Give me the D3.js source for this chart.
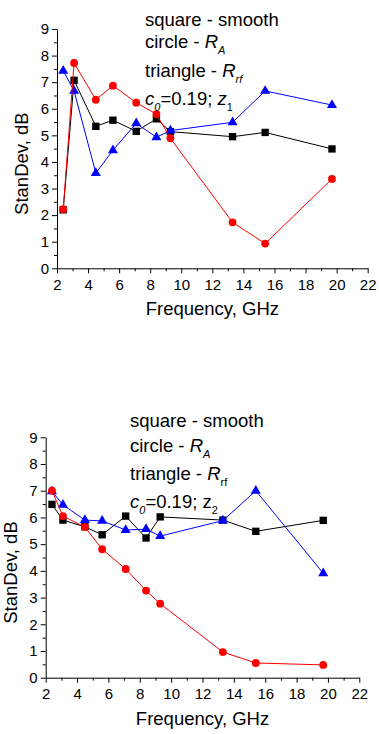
<!DOCTYPE html>
<html>
<head>
<meta charset="utf-8">
<script src="https://cdn.jsdelivr.net/npm/d3@7"></script>
<style>
  body { margin: 0; background: #fff; }
  svg { display: block; }
  text { font-family: "Liberation Sans", Arial, sans-serif; fill: #000; }
</style>
</head>
<body>
<div id="chart"></div>
<script>
// frequencies (GHz) shared by both panels
const freq = [2.4, 3.1, 4.5, 5.6, 7.1, 8.4, 9.3, 13.3, 15.4, 19.7];

// panel 1 (z1)
const smoothZ1 = [2.2, 7.07, 5.34, 5.57, 5.15, 5.62, 5.14, 4.95, 5.11, 4.49];
const raZ1     = [2.22, 7.72, 6.34, 6.87, 6.23, 5.80, 4.89, 1.73, 0.93, 3.36];
const rrfZ1    = [7.43, 6.67, 3.58, 4.44, 5.45, 4.93, 5.18, 5.49, 6.67, 6.14];

// panel 2 (z2)
const smoothZ2 = [6.49, 5.9, 5.65, 5.35, 6.05, 5.23, 6.02, 5.9, 5.48, 5.89];
const raZ2     = [7.0, 6.05, 5.64, 4.81, 4.07, 3.26, 2.77, 0.96, 0.55, 0.48];
const rrfZ2    = [6.98, 6.47, 5.9, 5.87, 5.53, 5.56, 5.3, 5.88, 7.0, 3.91];

const xTicks = [2, 4, 6, 8, 10, 12, 14, 16, 18, 20, 22];
const yTicks = [0, 1, 2, 3, 4, 5, 6, 7, 8, 9];

const width = 379;
const height = 734;

const svg = d3.select("#chart")
    .append("svg")
    .attr("width", width)
    .attr("height", height);

// draw one panel
function drawPanel(opts) {
    const x = d3.scaleLinear().domain([2, 22]).range([opts.left, opts.right]);
    const y = d3.scaleLinear().domain([0, 9]).range([opts.bottom, opts.top]);

    const g = svg.append("g");

    // x axis, major + minor ticks outward
    g.append("g")
        .attr("transform", `translate(0,${opts.bottom})`)
        .call(d3.axisBottom(x).tickValues(d3.range(3, 22, 2)).tickSize(3).tickFormat(""))
        .call(a => a.select(".domain").remove());
    g.append("g")
        .attr("transform", `translate(0,${opts.bottom})`)
        .call(d3.axisBottom(x).tickValues(xTicks).tickSize(5).tickSizeOuter(0).tickPadding(6))
        .call(a => a.selectAll("text").attr("font-size", 15).attr("font-family", "Liberation Sans, Arial, sans-serif"));

    // y axis
    g.append("g")
        .attr("transform", `translate(${opts.left},0)`)
        .call(d3.axisLeft(y).tickValues(d3.range(0.5, 9, 1)).tickSize(3).tickFormat(""))
        .call(a => a.select(".domain").remove());
    g.append("g")
        .attr("transform", `translate(${opts.left},0)`)
        .call(d3.axisLeft(y).tickValues(yTicks).tickSize(5).tickSizeOuter(0).tickPadding(3))
        .call(a => a.selectAll("text").attr("font-size", 15).attr("font-family", "Liberation Sans, Arial, sans-serif"));

    g.selectAll(".domain, .tick line").attr("stroke", "#000").attr("stroke-width", 1);

    // axis titles
    g.append("text")
        .attr("x", (opts.left + opts.right) / 2)
        .attr("y", opts.bottom + 47)
        .attr("text-anchor", "middle")
        .attr("font-size", 18.5)
        .text("Frequency, GHz");

    g.append("text")
        .attr("transform", `translate(${opts.left - 29},${(opts.top + opts.bottom) / 2 + 15}) rotate(-90)`)
        .attr("text-anchor", "middle")
        .attr("font-size", 18.5)
        .text("StanDev, dB");

    // series: black squares, blue triangles, red circles
    const series = [
        { vals: opts.smooth, color: "#000", shape: d3.symbolSquare, size: 54 },
        { vals: opts.rrf, color: "#0000ff", shape: d3.symbolTriangle, size: 44 },
        { vals: opts.ra, color: "#ff0000", shape: d3.symbolCircle, size: 48 }
    ];

    const line = d3.line().x(d => x(d[0])).y(d => y(d[1]));

    series.forEach(s => {
        const pts = freq.map((f, i) => [f, s.vals[i]]);
        g.append("path")
            .datum(pts)
            .attr("d", line)
            .attr("fill", "none")
            .attr("stroke", s.color)
            .attr("stroke-width", 1);
        g.selectAll(null)
            .data(pts)
            .enter().append("path")
            .attr("d", d3.symbol().type(s.shape).size(s.size))
            .attr("transform", d => `translate(${x(d[0])},${y(d[1])})`)
            .attr("fill", s.color);
    });

    // annotation block
    const tx = opts.noteX;
    const base = opts.noteY;
    const note = g.append("g").attr("font-size", 18.5);

    note.append("text").attr("x", tx).attr("y", base[0]).text("square - smooth");

    const t2 = note.append("text").attr("x", tx).attr("y", base[1]);
    t2.append("tspan").text("circle - ");
    t2.append("tspan").attr("font-style", "italic").text("R");
    t2.append("tspan").attr("font-style", "italic").attr("font-size", 11).attr("dy", 6).text("A");

    const t3 = note.append("text").attr("x", tx).attr("y", base[2]);
    t3.append("tspan").text("triangle - ");
    t3.append("tspan").attr("font-style", "italic").text("R");
    t3.append("tspan").attr("font-style", opts.rfItalic ? "italic" : "normal")
        .attr("font-size", 11).attr("dy", 6).text("rf");

    const t4 = note.append("text").attr("x", tx).attr("y", base[3]);
    t4.append("tspan").attr("font-style", "italic").text("c");
    t4.append("tspan").attr("font-style", "italic").attr("font-size", 11).attr("dy", 6).text("0");
    t4.append("tspan").attr("dy", -6).text("=0.19; ");
    t4.append("tspan").attr("font-style", opts.zItalic ? "italic" : "normal").text("z");
    t4.append("tspan").attr("font-size", 11).attr("dy", 6).text(opts.zIndex);
}

drawPanel({
    left: 57, right: 367.7, top: 29, bottom: 268.3,
    smooth: smoothZ1, ra: raZ1, rrf: rrfZ1,
    noteX: 145, noteY: [25.7, 48.3, 76.7, 105],
    rfItalic: true, zItalic: true, zIndex: "1"
});

drawPanel({
    left: 45.7, right: 359.3, top: 437.3, bottom: 677.7,
    smooth: smoothZ2, ra: raZ2, rrf: rrfZ2,
    noteX: 130, noteY: [427.3, 451.7, 480, 508],
    rfItalic: false, zItalic: false, zIndex: "2"
});
</script>
</body>
</html>
